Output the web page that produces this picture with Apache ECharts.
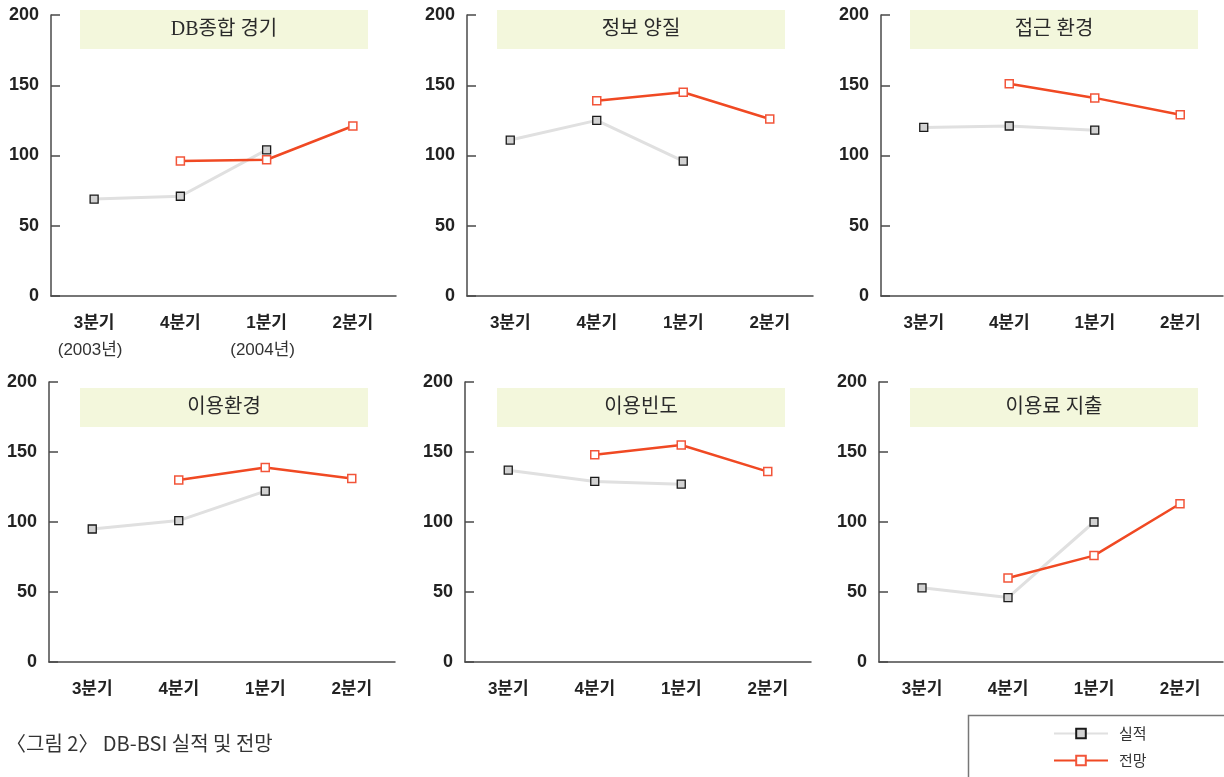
<!DOCTYPE html>
<html>
<head>
<meta charset="utf-8">
<script src="https://cdn.jsdelivr.net/npm/echarts@6/dist/echarts.min.js"></script>
<style>
html,body{margin:0;padding:0;background:#fff;}
#c{width:1224px;height:777px;}
</style>
</head>
<body>
<div id="c"></div>
<script>
// ---- data ----
const categories = ['3분기', '4분기', '1분기', '2분기'];
const yearLabels = ['(2003년)', '', '(2004년)', ''];
const panelTitles = ['DB종합 경기', '정보 양질', '접근 환경', '이용환경', '이용빈도', '이용료 지출'];
const seriesNames = ['실적', '전망'];
const yMin = 0, yMax = 200, yStep = 50;

const actualDB     = [69, 71, 104, null];
const forecastDB   = [null, 96, 97, 121];
const actualInfo   = [111, 125, 96, null];
const forecastInfo = [null, 139, 145, 126];
const actualAccess   = [120, 121, 118, null];
const forecastAccess = [null, 151, 141, 129];
const actualEnv    = [95, 101, 122, null];
const forecastEnv  = [null, 130, 139, 131];
const actualFreq   = [137, 129, 127, null];
const forecastFreq = [null, 148, 155, 136];
const actualFee    = [53, 46, 100, null];
const forecastFee  = [null, 60, 76, 113];

const captionText = '〈그림 2〉 DB-BSI 실적 및 전망';

// ---- layout ----
const actualSets = [actualDB, actualInfo, actualAccess, actualEnv, actualFreq, actualFee];
const forecastSets = [forecastDB, forecastInfo, forecastAccess, forecastEnv, forecastFreq, forecastFee];
const gridBoxes = [
  {left: 51, top: 15, width: 345, height: 281},
  {left: 467, top: 15, width: 346, height: 281},
  {left: 881, top: 15, width: 342, height: 281},
  {left: 49, top: 382, width: 346, height: 280},
  {left: 465, top: 382, width: 346, height: 280},
  {left: 879, top: 382, width: 344, height: 280}
];
const titleBoxes = [
  {x: 80, y: 10, w: 288, h: 39},
  {x: 497, y: 10, w: 288, h: 39},
  {x: 910, y: 10, w: 288, h: 39},
  {x: 80, y: 388, w: 288, h: 39},
  {x: 497, y: 388, w: 288, h: 39},
  {x: 910, y: 388, w: 288, h: 39}
];

const axisColor = '#4a4a4a';
const grids = [], xAxes = [], yAxes = [], series = [], graphics = [];

gridBoxes.forEach((g, i) => {
  grids.push(Object.assign({containLabel: false}, g));
  xAxes.push({
    type: 'category', gridIndex: i, data: categories, boundaryGap: true,
    axisLine: {lineStyle: {color: axisColor, width: 1.5}},
    axisTick: {inside: true, length: 5, alignWithLabel: false, lineStyle: {color: axisColor, width: 1.5}},
    axisLabel: {
      margin: 14, interval: 0,
      formatter: (v, idx) => (i === 0 && yearLabels[idx]) ? '{b|' + v + '}\n{y|' + yearLabels[idx] + '}' : '{b|' + v + '}',
      rich: {
        b: {fontFamily: 'Liberation Sans, Noto Sans CJK KR', fontWeight: 'bold', fontSize: 17, color: '#222', lineHeight: 27},
        y: {fontFamily: 'Liberation Sans, Noto Sans CJK KR', fontSize: 17, color: '#333', lineHeight: 27, padding: [0, 8, 0, 0]}
      }
    },
    splitLine: {show: false}
  });
  yAxes.push({
    type: 'value', gridIndex: i, min: yMin, max: yMax, interval: yStep,
    axisLine: {show: true, lineStyle: {color: axisColor, width: 1.5}},
    axisTick: {show: true, inside: true, length: 9, lineStyle: {color: axisColor, width: 1.5}},
    axisLabel: {margin: 12, fontFamily: 'Liberation Sans', fontWeight: 'bold', fontSize: 18, color: '#222'},
    splitLine: {show: false}
  });
  series.push({
    name: seriesNames[0], type: 'line', xAxisIndex: i, yAxisIndex: i,
    data: actualSets[i], connectNulls: false,
    symbol: 'rect', symbolSize: 8,
    lineStyle: {color: '#e0e0e0', width: 3},
    itemStyle: {color: '#d2d2d2', borderColor: '#1a1a1a', borderWidth: 1.3},
    z: 2
  });
  series.push({
    name: seriesNames[1], type: 'line', xAxisIndex: i, yAxisIndex: i,
    data: forecastSets[i], connectNulls: false,
    symbol: 'rect', symbolSize: 8,
    lineStyle: {color: '#f04923', width: 2.5},
    itemStyle: {color: '#ffffff', borderColor: '#f2553a', borderWidth: 1.5},
    z: 3
  });
  const tb = titleBoxes[i];
  graphics.push({
    type: 'rect', z: 0, silent: true,
    shape: {x: tb.x, y: tb.y, width: tb.w, height: tb.h},
    style: {fill: '#f3f7dc'}
  });
  graphics.push({
    type: 'text', z: 1, silent: true,
    x: tb.x + tb.w / 2, y: tb.y + tb.h / 2,
    style: {text: panelTitles[i], align: 'center', verticalAlign: 'middle',
      font: '20px "Liberation Serif", "Noto Sans CJK KR"', fill: '#2a2a2a'}
  });
});

graphics.push({
  type: 'rect', silent: true,
  shape: {x: 968.5, y: 715.5, width: 262, height: 70},
  style: {fill: 'none', stroke: '#777', lineWidth: 1.5}
});
graphics.push({
  type: 'text', silent: true, x: 6, y: 743,
  style: {text: captionText, verticalAlign: 'middle',
    font: '20px "Noto Sans CJK KR"', fill: '#333'}
});

const chart = echarts.init(document.getElementById('c'), null, {renderer: 'canvas'});
chart.setOption({
  animation: false,
  backgroundColor: '#ffffff',
  grid: grids,
  xAxis: xAxes,
  yAxis: yAxes,
  legend: {
    data: seriesNames, orient: 'vertical', left: 1053, top: 726, padding: 0,
    itemWidth: 54, itemHeight: 12, itemGap: 12,
    textStyle: {fontFamily: 'Noto Sans CJK KR', fontSize: 15, color: '#333', padding: [0, 0, 0, 6]}
  },
  graphic: graphics,
  series: series
});
</script>
</body>
</html>
